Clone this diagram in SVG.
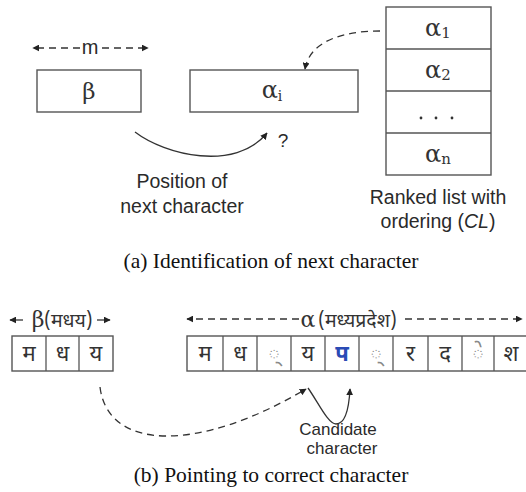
<svg xmlns="http://www.w3.org/2000/svg" width="526" height="492" viewBox="0 0 526 492">
<defs>
<marker id="ah" viewBox="0 0 10 10" refX="9" refY="5" markerWidth="7" markerHeight="7" markerUnits="userSpaceOnUse" orient="auto">
<path d="M0,0 L10,5 L0,10 z" fill="#222"/>
</marker>
<style>
.box{fill:#fff;stroke:#555;stroke-width:1.4}
.ln{stroke:#555;stroke-width:1.3}
.gk{font-family:"DejaVu Serif","Liberation Serif",serif;fill:#333}
.sans{font-family:"Liberation Sans",Arial,sans-serif;fill:#2a2a2a}
.cap{font-family:"Liberation Serif","Times New Roman",serif;fill:#111;font-size:21.5px}
.dev{font-family:"Noto Sans Devanagari","Lohit Devanagari","Noto Sans","FreeSans",sans-serif;fill:#333;font-size:19.5px}
.cell{font-size:22px}
.con{fill:none;stroke:#333;stroke-width:1.3}
.dash{stroke-dasharray:7,5}
</style>
</defs>

<g id="beta-box">
<rect class="box" x="37" y="70" width="104" height="42"/>
<text class="gk" x="89" y="99" font-size="23" text-anchor="middle">β</text>
</g>

<g id="alpha-i-box">
<rect class="box" x="190" y="70" width="168" height="42"/>
<text class="gk" x="272" y="98" font-size="24" text-anchor="middle">α<tspan font-size="14" dy="3">i</tspan></text>
</g>

<g id="ranked-list">
<rect class="box" x="386" y="7" width="105" height="168"/>
<line class="ln" x1="386" y1="49" x2="491" y2="49"/>
<line class="ln" x1="386" y1="91" x2="491" y2="91"/>
<line class="ln" x1="386" y1="133" x2="491" y2="133"/>
<text class="gk" x="438" y="36" font-size="24" text-anchor="middle">α<tspan font-size="15" dy="2">1</tspan></text>
<text class="gk" x="438" y="78" font-size="24" text-anchor="middle">α<tspan font-size="15" dy="2">2</tspan></text>
<g fill="#333"><circle cx="421" cy="118" r="1.4"/><circle cx="436" cy="118" r="1.4"/><circle cx="452" cy="118" r="1.4"/></g>
<text class="gk" x="438" y="162" font-size="24" text-anchor="middle">α<tspan font-size="15" dy="2">n</tspan></text>
</g>

<g id="labels-a">
<text class="sans" x="90" y="54" font-size="20" text-anchor="middle">m</text>
<text class="sans" x="283" y="147" font-size="19" text-anchor="middle">?</text>
<text class="sans" x="182" y="188" font-size="19.5" text-anchor="middle">Position of</text>
<text class="sans" x="182" y="213" font-size="19.5" text-anchor="middle">next character</text>
<text class="sans" x="438" y="204" font-size="19.5" text-anchor="middle">Ranked list with</text>
<text class="sans" x="438" y="228" font-size="19.5" text-anchor="middle">ordering (<tspan font-style="italic">CL</tspan>)</text>
<text class="cap" x="271" y="268" text-anchor="middle">(a) Identification of next character</text>
</g>

<g id="beta-cells">
<rect class="box" x="12" y="336" width="101" height="35"/>
<line class="ln" x1="46" y1="336" x2="46" y2="371"/>
<line class="ln" x1="79" y1="336" x2="79" y2="371"/>
<text class="dev cell" x="29" y="361" text-anchor="middle">म</text>
<text class="dev cell" x="62.5" y="361" text-anchor="middle">ध</text>
<text class="dev cell" x="96" y="361" text-anchor="middle">य</text>
</g>

<g id="beta-label">
<text class="gk" x="38" y="327" font-size="22" text-anchor="middle">β</text>
<text class="dev" x="44" y="327">(मधय)</text>
</g>

<g id="alpha-cells">
<rect class="box" x="187" y="336" width="345" height="35"/>
<line class="ln" x1="223" y1="336" x2="223" y2="371"/>
<line class="ln" x1="257" y1="336" x2="257" y2="371"/>
<line class="ln" x1="291" y1="336" x2="291" y2="371"/>
<line class="ln" x1="325" y1="336" x2="325" y2="371"/>
<line class="ln" x1="359" y1="336" x2="359" y2="371"/>
<line class="ln" x1="393" y1="336" x2="393" y2="371"/>
<line class="ln" x1="428" y1="336" x2="428" y2="371"/>
<line class="ln" x1="462" y1="336" x2="462" y2="371"/>
<line class="ln" x1="494" y1="336" x2="494" y2="371"/>
<text class="dev cell" x="205" y="361" text-anchor="middle">म</text>
<text class="dev cell" x="240" y="361" text-anchor="middle">ध</text>
<text class="dev cell" x="274" y="361" text-anchor="middle" style="fill:#888">◌्</text>
<text class="dev cell" x="308" y="361" text-anchor="middle">य</text>
<text class="dev cell" x="342" y="361" text-anchor="middle" style="fill:#2a4bb5;font-weight:bold">प</text>
<text class="dev cell" x="376" y="361" text-anchor="middle" style="fill:#888">◌्</text>
<text class="dev cell" x="410.5" y="361" text-anchor="middle">र</text>
<text class="dev cell" x="445" y="361" text-anchor="middle">द</text>
<text class="dev cell" x="478" y="361" text-anchor="middle" style="fill:#888">◌े</text>
<text class="dev cell" x="511" y="361" text-anchor="middle">श</text>
</g>

<g id="alpha-label">
<text class="gk" x="308" y="327" font-size="22" text-anchor="middle">α</text>
<text class="dev" x="318" y="327">(मध्यप्रदेश)</text>
</g>

<g id="labels-b">
<text class="sans" x="338" y="435" font-size="17" text-anchor="middle">Candidate</text>
<text class="sans" x="342" y="454" font-size="17" text-anchor="middle">character</text>
<text class="cap" x="271" y="482" text-anchor="middle">(b) Pointing to correct character</text>
</g>

<g id="connectors">
<path class="con dash" d="M80,48 H33" marker-end="url(#ah)"/>
<path class="con dash" d="M102,48 H148" marker-end="url(#ah)"/>
<path class="con" d="M135,132 C165,155 235,172 267,133" marker-end="url(#ah)"/>
<path class="con dash" d="M380,31 C345,31 310,40 305,69" marker-end="url(#ah)"/>
<path class="con" d="M23,320 H10" marker-end="url(#ah)"/>
<path class="con" d="M97,320 H110" marker-end="url(#ah)"/>
<path class="con dash" d="M299,319 H187" marker-end="url(#ah)"/>
<path class="con dash" d="M405,319 H522" marker-end="url(#ah)"/>
<path class="con dash" d="M100,387 C108,452 200,452 306,389" marker-end="url(#ah)"/>
<path class="con" d="M308,388 C318,402 328,424 336,424 C345,424 349,408 350,389" marker-end="url(#ah)"/>
</g>
</svg>
